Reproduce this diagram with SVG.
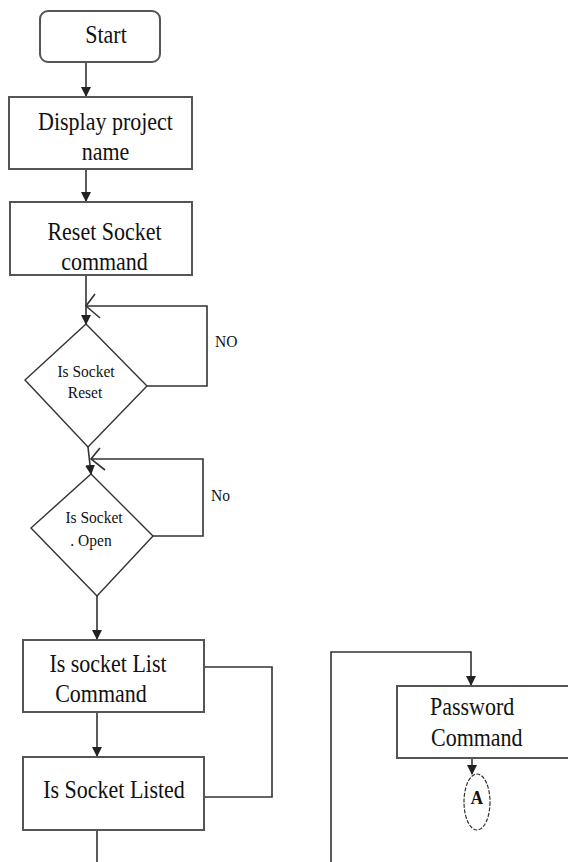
<svg xmlns="http://www.w3.org/2000/svg" width="568" height="862" viewBox="0 0 568 862">
<style>
.box{fill:#fff;stroke:#555;stroke-width:2}
.ln{fill:none;stroke:#333;stroke-width:1.6}
.t{font-family:"Liberation Serif","Times New Roman",serif;font-size:22px;fill:#111;text-anchor:middle}
.s{font-family:"Liberation Serif","Times New Roman",serif;font-size:15.5px;fill:#111;text-anchor:middle}
.l{text-anchor:start}
</style>
<defs>
<marker id="ah" markerWidth="10" markerHeight="10" refX="9" refY="5" orient="auto" markerUnits="userSpaceOnUse">
<path d="M0,0 L10,5 L0,10 Z" fill="#222"/>
</marker>
</defs>
<rect width="568" height="862" fill="#fff"/>
<g id="connectors">
<line class="ln" x1="86" y1="62" x2="86" y2="96" marker-end="url(#ah)"/>
<line class="ln" x1="86" y1="169" x2="86" y2="201" marker-end="url(#ah)"/>
<line class="ln" x1="86" y1="275" x2="86" y2="324" marker-end="url(#ah)"/>
<polyline class="ln" points="147,386 207,386 207,306 86,306"/>
<polyline class="ln" points="95,294 86,306 100,318"/>
<line class="ln" x1="88" y1="447" x2="91" y2="474" marker-end="url(#ah)"/>
<polyline class="ln" points="153,536 203,536 203,459 91,459"/>
<polyline class="ln" points="100,448 91,459 105,470"/>
<line class="ln" x1="97" y1="596" x2="97" y2="639" marker-end="url(#ah)"/>
<line class="ln" x1="97" y1="712" x2="97" y2="756" marker-end="url(#ah)"/>
<polyline class="ln" points="204,667 272,667 272,797 204,797"/>
<line class="ln" x1="97" y1="830" x2="97" y2="862"/>
<polyline class="ln" points="331,862 331,652 471,652 471,685" marker-end="url(#ah)"/>
<line class="ln" x1="472" y1="758" x2="472" y2="774" marker-end="url(#ah)"/>
</g>
<g id="start">
<rect class="box" x="40" y="11" width="120" height="51" rx="8"/>
<text class="t" transform="translate(106 43) scale(1 1.15)">Start</text>
</g>
<g id="display">
<rect class="box" x="9" y="97" width="183" height="72"/>
<text class="t" transform="translate(105.5 130) scale(1 1.15)">Display project</text>
<text class="t" transform="translate(105.5 160) scale(1 1.15)">name</text>
</g>
<g id="reset">
<rect class="box" x="10" y="202" width="182" height="73"/>
<text class="t" transform="translate(104.5 240) scale(1 1.15)">Reset Socket</text>
<text class="t" transform="translate(104.5 270) scale(1 1.15)">command</text>
</g>
<g id="isReset">
<polygon class="box" style="stroke:#333;stroke-width:1.4" points="86,324 147,386 88,447 25,380"/>
<text class="s" transform="translate(86 377) scale(1 1.13)">Is Socket</text>
<text class="s" transform="translate(85 398) scale(1 1.13)">Reset</text>
</g>
<text class="s l" transform="translate(215 347) scale(1 1.13)">NO</text>
<g id="isOpen">
<polygon class="box" style="stroke:#333;stroke-width:1.4" points="91,474 153,536 97,596 31,528"/>
<text class="s" transform="translate(94 523) scale(1 1.13)">Is Socket</text>
<text class="s" transform="translate(91 546) scale(1 1.13)">. Open</text>
</g>
<text class="s l" transform="translate(211 501) scale(1 1.13)">No</text>
<g id="listCmd">
<rect class="box" x="23" y="640" width="181" height="72"/>
<text class="t" transform="translate(108 672) scale(1 1.15)">Is socket List</text>
<text class="t" transform="translate(101 702) scale(1 1.15)">Command</text>
</g>
<g id="listed">
<rect class="box" x="23" y="757" width="181" height="73"/>
<text class="t" transform="translate(114 798) scale(1 1.15)">Is Socket Listed</text>
</g>
<g id="password">
<rect class="box" x="397" y="686" width="180" height="72"/>
<text class="t l" transform="translate(430 715) scale(1 1.15)">Password</text>
<text class="t l" transform="translate(431 746) scale(1 1.15)">Command</text>
</g>
<g id="connA">
<ellipse cx="477" cy="802" rx="13" ry="28" fill="#fff" stroke="#333" stroke-width="1.2" stroke-dasharray="4,1.5"/>
<text transform="translate(477 804) scale(1 1.15)" style="font-family:'Liberation Serif',serif;font-weight:bold;font-size:17px;fill:#111;text-anchor:middle">A</text>
</g>
</svg>
